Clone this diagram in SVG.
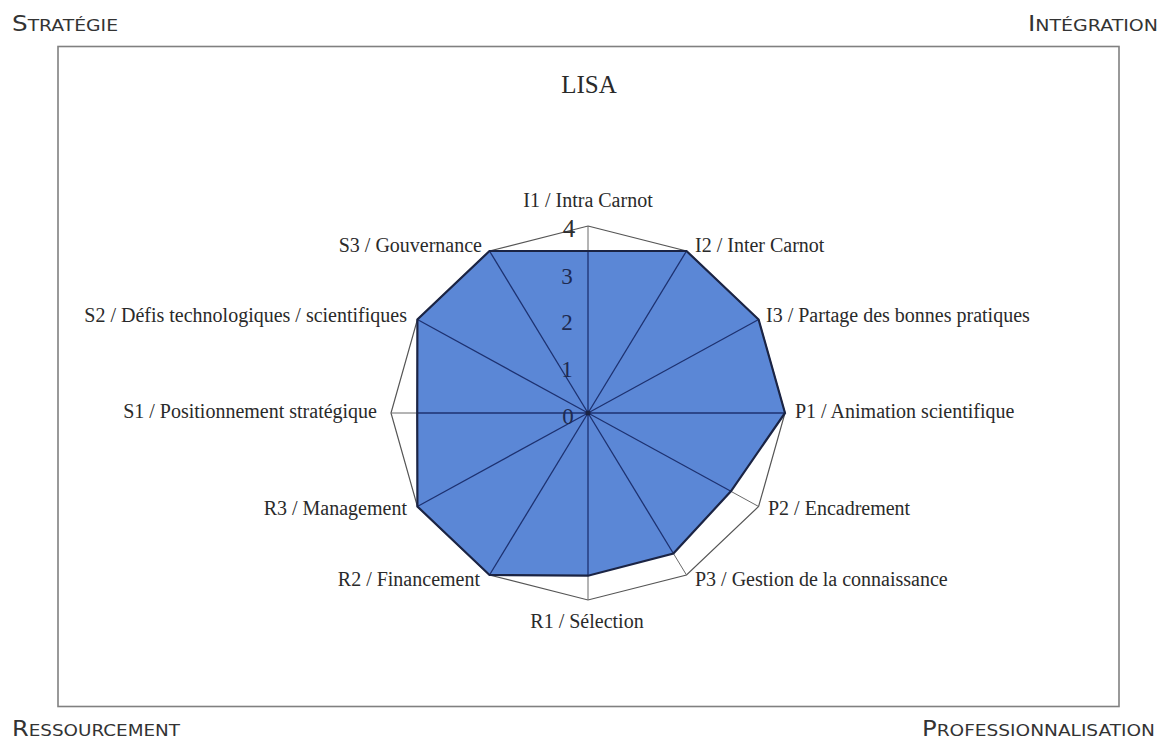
<svg xmlns="http://www.w3.org/2000/svg" width="1162" height="742" viewBox="0 0 1162 742">
<style>
.lbl{font-family:"Liberation Serif","Times New Roman",serif;font-size:20px;fill:#2a2a2a}
.tick{font-family:"Liberation Serif","Times New Roman",serif;font-size:23px;fill:#1e2a50;text-anchor:middle}
.tick4{font-size:25px;fill:#2e2e2e}
.corner{font-family:"DejaVu Sans","Liberation Sans",sans-serif;fill:#333333}
.big{font-size:21px}
.sm{font-size:16px}
.axis{stroke:#6a6a6a;stroke-width:1}
.axisIn{stroke:#1d3170;stroke-width:1.3}
</style>
<rect width="1162" height="742" fill="#ffffff"/>
<g id="frame">
<rect x="58" y="46.5" width="1061" height="660" fill="none" stroke="#808080" stroke-width="1.6"/>
</g>
<g id="corners">
<text class="corner" x="12" y="31" textLength="106" lengthAdjust="spacingAndGlyphs"><tspan class="big">S</tspan><tspan class="sm">TRATÉGIE</tspan></text>
<text class="corner" x="1028" y="31" textLength="130" lengthAdjust="spacingAndGlyphs"><tspan class="big">I</tspan><tspan class="sm">NTÉGRATION</tspan></text>
<text class="corner" x="12" y="736" textLength="168" lengthAdjust="spacingAndGlyphs"><tspan class="big">R</tspan><tspan class="sm">ESSOURCEMENT</tspan></text>
<text class="corner" x="922" y="736" textLength="233" lengthAdjust="spacingAndGlyphs"><tspan class="big">P</tspan><tspan class="sm">ROFESSIONNALISATION</tspan></text>
</g>
<g id="title">
<text x="589" y="93" font-family="Liberation Serif, Times New Roman, serif" font-size="25" fill="#2a2a2a" text-anchor="middle">LISA</text>
</g>
<g id="grid">
<polygon points="588,226 686.5,251 758.6,319.5 785,413 758.6,506.5 686.5,575 588,600 489.5,575 417.4,506.5 391,413 417.4,319.5 489.5,251" fill="none" stroke="#555" stroke-width="1.2" stroke-linejoin="miter"/>
<g class="axis">
<line x1="588" y1="413" x2="588" y2="226"/>
<line x1="588" y1="413" x2="686.5" y2="251"/>
<line x1="588" y1="413" x2="758.6" y2="319.5"/>
<line x1="588" y1="413" x2="785" y2="413"/>
<line x1="588" y1="413" x2="758.6" y2="506.5"/>
<line x1="588" y1="413" x2="686.5" y2="575"/>
<line x1="588" y1="413" x2="588" y2="600"/>
<line x1="588" y1="413" x2="489.5" y2="575"/>
<line x1="588" y1="413" x2="417.4" y2="506.5"/>
<line x1="588" y1="413" x2="391" y2="413"/>
<line x1="588" y1="413" x2="417.4" y2="319.5"/>
<line x1="588" y1="413" x2="489.5" y2="251"/>
</g>
</g>
<g id="data">
<polygon points="588,251 686.5,251 758.6,319.5 785,413 730.9,491.3 673.4,553.5 588,575.7 489.5,575 417.4,506.5 417.2,413 417.4,319.5 489.5,251" fill="#5b87d6" stroke="none"/>
<g class="axisIn">
<line x1="588" y1="413" x2="588" y2="251"/>
<line x1="588" y1="413" x2="686.5" y2="251"/>
<line x1="588" y1="413" x2="758.6" y2="319.5"/>
<line x1="588" y1="413" x2="785" y2="413"/>
<line x1="588" y1="413" x2="730.9" y2="491.3"/>
<line x1="588" y1="413" x2="673.4" y2="553.5"/>
<line x1="588" y1="413" x2="588" y2="575.7"/>
<line x1="588" y1="413" x2="489.5" y2="575"/>
<line x1="588" y1="413" x2="417.4" y2="506.5"/>
<line x1="588" y1="413" x2="417.2" y2="413"/>
<line x1="588" y1="413" x2="417.4" y2="319.5"/>
<line x1="588" y1="413" x2="489.5" y2="251"/>
</g>
<polygon points="588,251 686.5,251 758.6,319.5 785,413 730.9,491.3 673.4,553.5 588,575.7 489.5,575 417.4,506.5 417.2,413 417.4,319.5 489.5,251" fill="none" stroke="#1b2444" stroke-width="2.2" stroke-linejoin="miter"/>
<circle cx="588" cy="413" r="2.5" fill="#1b2444"/>
</g>
<g id="ticks">
<text class="tick tick4" x="569" y="237">4</text>
<text class="tick" x="567" y="284">3</text>
<text class="tick" x="567" y="330">2</text>
<text class="tick" x="567" y="377">1</text>
<text class="tick" x="568" y="424">0</text>
</g>
<g id="labels">
<text id="I1" class="lbl" x="588" y="207" text-anchor="middle">I1 / Intra Carnot</text>
<text id="I2" class="lbl" x="695" y="252">I2 / Inter Carnot</text>
<text id="I3" class="lbl" x="766" y="322">I3 / Partage des bonnes pratiques</text>
<text id="P1" class="lbl" x="795" y="418">P1 / Animation scientifique</text>
<text id="P2" class="lbl" x="768" y="515">P2 / Encadrement</text>
<text id="P3" class="lbl" x="695" y="586">P3 / Gestion de la connaissance</text>
<text id="R1" class="lbl" x="587" y="628" text-anchor="middle">R1 / Sélection</text>
<text id="R2" class="lbl" x="480" y="586" text-anchor="end">R2 / Financement</text>
<text id="R3" class="lbl" x="407" y="515" text-anchor="end">R3 / Management</text>
<text id="S1" class="lbl" x="377" y="418" text-anchor="end">S1 / Positionnement stratégique</text>
<text id="S2" class="lbl" x="407" y="322" text-anchor="end">S2 / Défis technologiques / scientifiques</text>
<text id="S3" class="lbl" x="482" y="252" text-anchor="end">S3 / Gouvernance</text>
</g>
</svg>
